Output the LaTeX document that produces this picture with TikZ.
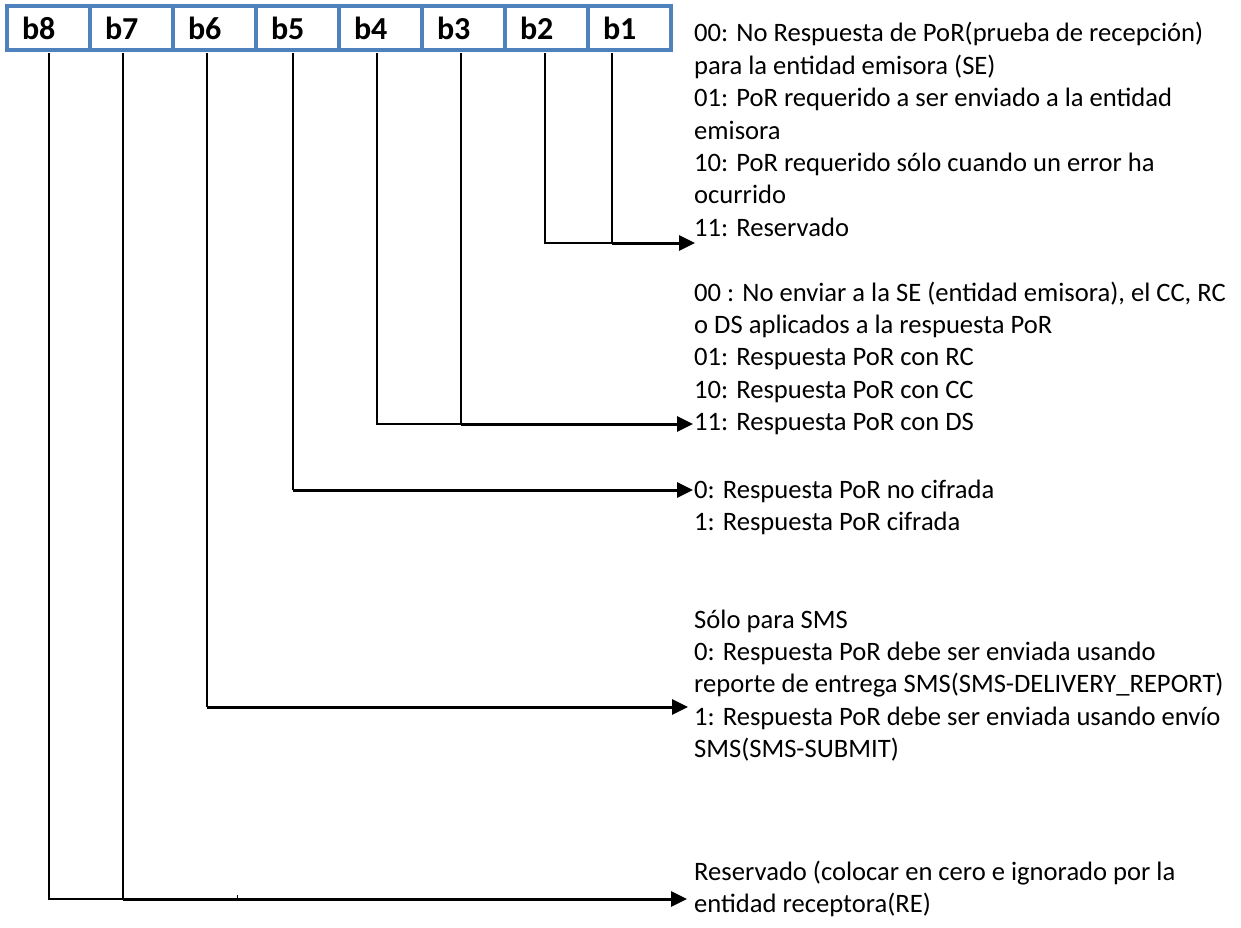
\documentclass[tikz,border=0pt]{standalone}
\usepackage{fontspec}
\setmainfont{Carlito}
\usetikzlibrary{arrows.meta}
\definecolor{cellblue}{HTML}{4F81BD}
\begin{document}
\begin{tikzpicture}[x=1pt,y=-1pt,
  bitcell/.style={draw=cellblue, line width=3.2pt, minimum height=44pt,
    inner xsep=15pt, inner ysep=0pt, text width=53pt, align=left,
    font=\bfseries\fontsize{32}{32}\selectfont},
  link/.style={line width=2pt},
  pointer/.style={line width=3pt, -{Triangle[length=16pt,width=15pt]}},
  desc/.style={anchor=base west, inner sep=0pt,
    font=\fontsize{26.6}{32.4}\selectfont}]
\useasboundingbox (0,0) rectangle (1241,928);

% bit cells of the byte
\node[bitcell] (c8) at (48.5,28) {b8};
\node[bitcell] (c7) at (131.5,28) {b7};
\node[bitcell] (c6) at (214.5,28) {b6};
\node[bitcell] (c5) at (297.5,28) {b5};
\node[bitcell] (c4) at (380.5,28) {b4};
\node[bitcell] (c3) at (463.5,28) {b3};
\node[bitcell] (c2) at (546.5,28) {b2};
\node[bitcell] (c1) at (629.5,28) {b1};

% where each bit line leaves its cell
\coordinate (s8) at ([xshift=0.5pt,yshift=-1.6pt]c8.south);
\coordinate (s7) at ([xshift=-8.5pt,yshift=-1.6pt]c7.south);
\coordinate (s6) at ([xshift=-7.5pt,yshift=-1.6pt]c6.south);
\coordinate (s5) at ([xshift=-4.5pt,yshift=-1.6pt]c5.south);
\coordinate (s4) at ([xshift=-3.5pt,yshift=-1.6pt]c4.south);
\coordinate (s3) at ([xshift=-2.5pt,yshift=-1.6pt]c3.south);
\coordinate (s2) at ([xshift=-1.5pt,yshift=-1.6pt]c2.south);
\coordinate (s1) at ([xshift=-17.5pt,yshift=-1.6pt]c1.south);

% descriptions
\node[desc] (d1) at (694,42) {\parbox[t]{547pt}{\raggedright
  00: No Respuesta de PoR(prueba de recepción)\\
  para la entidad emisora (SE)\\
  01: PoR requerido a ser enviado a la entidad\\
  emisora\\
  10: PoR requerido sólo cuando un error ha\\
  ocurrido\\
  11: Reservado}};
\node[desc] (d2) at (694,301) {\parbox[t]{547pt}{\raggedright
  00 : No enviar a la SE (entidad emisora), el CC, RC\\
  o DS aplicados a la respuesta PoR\\
  01: Respuesta PoR con RC\\
  10: Respuesta PoR con CC\\
  11: Respuesta PoR con DS}};
\node[desc] (d3) at (694,498) {\parbox[t]{547pt}{\raggedright
  0: Respuesta PoR no cifrada\\
  1: Respuesta PoR cifrada}};
\node[desc] (d4) at (694,628) {\parbox[t]{547pt}{\raggedright
  Sólo para SMS\\
  0: Respuesta PoR debe ser enviada usando\\
  reporte de entrega SMS(SMS-DELIVERY\_REPORT)\\
  1: Respuesta PoR debe ser enviada usando envío\\
  SMS(SMS-SUBMIT)}};
\node[desc] (d5) at (694,880) {\parbox[t]{547pt}{\raggedright
  Reservado (colocar en cero e ignorado por la\\
  entidad receptora(RE)}};

% joints and arrow ends
\coordinate (j1) at (s1 |- 0,243);
\coordinate (e1) at (695,243);
\coordinate (j2) at (s3 |- 0,424);
\coordinate (e2) at (693,424);
\coordinate (j3) at (s5 |- 0,490);
\coordinate (e3) at (693,490);
\coordinate (j4) at (s6 |- 0,707);
\coordinate (e4) at (688,707);
\coordinate (j5) at (s7 |- 0,899);
\coordinate (e5) at (687,899);

% b2 b1
\draw[link] (s2) |- (j1);
\draw[link] (s1) -- (j1);
\draw[pointer] (j1) -- (e1);
% b4 b3
\draw[link] (s4) |- (j2);
\draw[link] (s3) -- (j2);
\draw[pointer] (j2) -- (e2);
% b5
\draw[link] (s5) -- (j3);
\draw[pointer] (j3) -- (e3);
% b6
\draw[link] (s6) -- (j4);
\draw[pointer] (j4) -- (e4);
% b8 b7
\draw[link] (s8) |- (j5);
\draw[link] (s7) -- (j5);
\draw[pointer] (j5) -- (e5);
\draw[line width=0.8pt] (237,895) -- (237,899);
\end{tikzpicture}
\end{document}
